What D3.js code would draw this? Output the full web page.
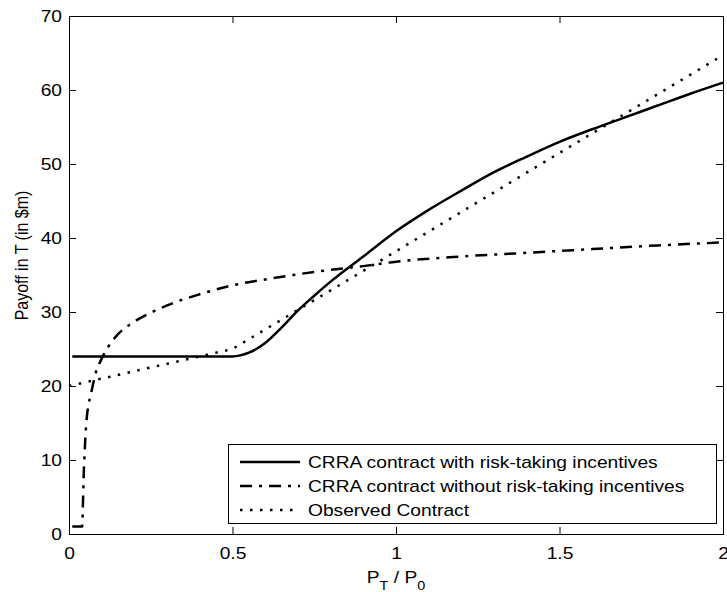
<!DOCTYPE html>
<html>
<head>
<meta charset="utf-8">
<script src="https://cdn.jsdelivr.net/npm/d3@7"></script>
<style>
  html, body { margin: 0; padding: 0; background: #fff; }
  svg { display: block; font-family: "Liberation Sans", Arial, sans-serif; }
</style>
</head>
<body>
<svg id="chart" width="727" height="592"></svg>
<script>
// Payoff in T vs P_T / P_0 for three contracts

// CRRA contract with risk-taking incentives (solid)
const riskX = [0.01, 0.1, 0.2, 0.3, 0.4, 0.5, 0.55, 0.6, 0.65, 0.7, 0.75, 0.8, 0.9, 1.0, 1.1, 1.2, 1.3, 1.4, 1.5, 1.6, 1.7, 1.8, 1.9, 2.0];
const riskY = [24, 24, 24, 24, 24, 24, 24.5, 25.8, 27.9, 30.2, 32.2, 34.1, 37.5, 40.9, 43.8, 46.4, 48.9, 51.0, 53.0, 54.7, 56.3, 57.9, 59.5, 61.0];

// CRRA contract without risk-taking incentives (dash-dot)
const noRiskX = [0.01, 0.04, 0.045, 0.05, 0.055, 0.06, 0.07, 0.08, 0.1, 0.12, 0.15, 0.2, 0.25, 0.3, 0.4, 0.5, 0.6, 0.7, 0.8, 0.9, 1.0, 1.2, 1.4, 1.6, 1.8, 2.0];
const noRiskY = [1, 1, 8, 13, 16, 17.5, 19.5, 21.5, 23.7, 25.3, 27, 28.7, 29.9, 30.9, 32.4, 33.6, 34.4, 35.1, 35.7, 36.2, 36.8, 37.5, 38.0, 38.5, 39.0, 39.4];

// Observed contract (dotted)
const obsX = [0, 0.5, 1, 1.5, 2];
const obsY = [20, 25, 38.2, 51.5, 64.7];

const xTicks = [0, 0.5, 1, 1.5, 2];
const yTicks = [0, 10, 20, 30, 40, 50, 60, 70];
const legendLabels = [
  'CRRA contract with risk-taking incentives',
  'CRRA contract without risk-taking incentives',
  'Observed Contract'
];

const SX = 1.2; // the reference text is a bit wider than plain Arial

const svg = d3.select('#chart');
const margin = { top: 16, right: 4, bottom: 58, left: 69 };
const width = 727 - margin.left - margin.right;
const height = 592 - margin.top - margin.bottom;

const x = d3.scaleLinear().domain([0, 2]).range([0, width]);
const y = d3.scaleLinear().domain([0, 70]).range([height, 0]);

const g = svg.append('g').attr('transform', `translate(${margin.left},${margin.top})`);

// axes, ticks pointing inward on all four sides
const fmt = d => String(d);
const bottom = g.append('g').attr('transform', `translate(0,${height})`)
  .call(d3.axisBottom(x).tickValues(xTicks).tickFormat(fmt).tickSizeInner(-7).tickSizeOuter(0));
g.append('g')
  .call(d3.axisTop(x).tickValues(xTicks).tickFormat('').tickSizeInner(-7).tickSizeOuter(0));
const left = g.append('g')
  .call(d3.axisLeft(y).tickValues(yTicks).tickFormat(fmt).tickSizeInner(-7).tickSizeOuter(0));
g.append('g').attr('transform', `translate(${width},0)`)
  .call(d3.axisRight(y).tickValues(yTicks).tickFormat('').tickSizeInner(-7).tickSizeOuter(0));

g.selectAll('.domain').remove();
g.selectAll('.tick line').attr('stroke', '#000');

bottom.selectAll('text')
  .attr('y', 25).attr('dy', 0)
  .attr('font-size', 16).attr('font-family', null).attr('fill', '#000')
  .attr('transform', `scale(${SX},1)`);
left.selectAll('text')
  .attr('x', -7 / SX).attr('dy', '0.35em')
  .attr('font-size', 16).attr('font-family', null).attr('fill', '#000')
  .attr('transform', `scale(${SX},1)`);

// plot box
g.append('rect')
  .attr('x', 0.5).attr('y', 0.5)
  .attr('width', width).attr('height', height)
  .attr('fill', 'none').attr('stroke', '#000').attr('stroke-width', 1);

// curves
const toPts = (xs, ys) => xs.map((v, i) => [v, ys[i]]);
const smooth = d3.line().x(d => x(d[0])).y(d => y(d[1])).curve(d3.curveMonotoneX);
const straight = d3.line().x(d => x(d[0])).y(d => y(d[1]));

const styles = [
  { dash: null },
  { dash: '12,7,3,7' },
  { dash: '2.5,7.5' }
];

g.append('path')
  .attr('d', straight(toPts(obsX, obsY)))
  .attr('fill', 'none').attr('stroke', '#000').attr('stroke-width', 2.5)
  .attr('stroke-dasharray', styles[2].dash);

g.append('path')
  .attr('d', smooth(toPts(noRiskX, noRiskY)))
  .attr('fill', 'none').attr('stroke', '#000').attr('stroke-width', 2.5)
  .attr('stroke-dasharray', styles[1].dash);

g.append('path')
  .attr('d', smooth(toPts(riskX, riskY)))
  .attr('fill', 'none').attr('stroke', '#000').attr('stroke-width', 2.5);

// legend
const leg = svg.append('g');
leg.append('rect')
  .attr('x', 228.5).attr('y', 444.5).attr('width', 488).attr('height', 79)
  .attr('fill', '#fff').attr('stroke', '#000').attr('stroke-width', 1);

const rows = leg.selectAll('g.row')
  .data(legendLabels)
  .join('g')
    .attr('class', 'row')
    .attr('transform', (d, i) => `translate(0,${462 + i * 24})`);

rows.append('line')
  .attr('x1', 240).attr('x2', 300)
  .attr('stroke', '#000').attr('stroke-width', 2.5)
  .attr('stroke-dasharray', (d, i) => styles[i].dash);

rows.append('text')
  .attr('transform', `translate(308,0) scale(${SX},1)`)
  .attr('dy', '0.35em')
  .attr('font-size', 16)
  .text(d => d);

// axis labels
svg.append('text')
  .attr('transform', `translate(28,255.5) rotate(-90) scale(1,${SX})`)
  .attr('text-anchor', 'middle')
  .attr('font-size', 16)
  .text('Payoff in T (in $m)');

const xl = svg.append('text')
  .attr('transform', `translate(${margin.left + x(1)},583) scale(${SX},1)`)
  .attr('text-anchor', 'middle')
  .attr('font-size', 16)
  .style('white-space', 'pre');
xl.append('tspan').text('P');
xl.append('tspan').attr('font-size', 12).attr('dy', 7).text('T');
xl.append('tspan').attr('dy', -7).text(' / P');
xl.append('tspan').attr('font-size', 12).attr('dy', 7).text('0');
</script>
</body>
</html>
